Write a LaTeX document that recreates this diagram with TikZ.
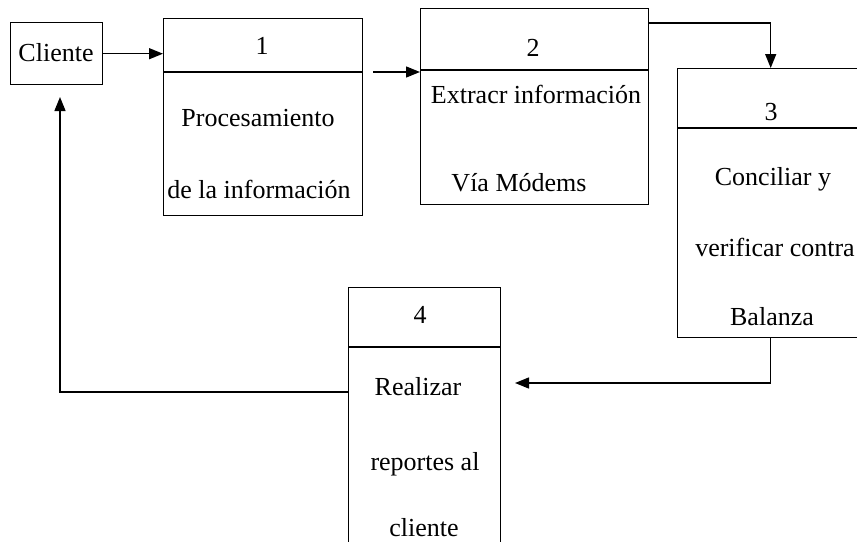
\documentclass[tikz,border=0pt]{standalone}
\usepackage{fontspec}
\setmainfont{Liberation Serif}
\usepackage{tikz}
\usetikzlibrary{arrows.meta,positioning,calc}
\tikzstyle{procbox}=[draw,rectangle,anchor=north west,inner sep=0pt]
\tikzstyle{boxtext}=[anchor=base,inner sep=0pt,font=\fontsize{26}{30}\selectfont]
\tikzstyle{flow}=[-{Triangle[length=14pt,width=11pt]}]

\begin{document}
\begin{tikzpicture}[x=1pt,y=-1pt,line width=1.4pt]
    \useasboundingbox (0,0) rectangle (857,541);
    % entidad externa
    \node [procbox,minimum width=92pt,minimum height=62pt] (cliente) at (10,22) {};
    \node [boxtext] (tcliente) at (56,61) {Cliente};
    % procesos
    \node [procbox,minimum width=199pt,minimum height=197pt] (p1) at (163,18) {};
    \draw ([yshift=-54pt]p1.north west) -- ([yshift=-54pt]p1.north east);
    \node [boxtext] (n1) at (262,54) {1};
    \node [boxtext] (t1a) at (258,126) {Procesamiento};
    \node [boxtext] (t1b) at (259,198) {de la información};

    \node [procbox,minimum width=228pt,minimum height=196pt] (p2) at (420,8) {};
    \draw ([yshift=-62pt]p2.north west) -- ([yshift=-62pt]p2.north east);
    \node [boxtext] (n2) at (533,56) {2};
    \node [boxtext] (t2a) at (536,103) {Extracr información};
    \node [boxtext] (t2b) at (519,191) {Vía Módems};

    \node [procbox,minimum width=186pt,minimum height=269pt] (p3) at (677,68) {};
    \draw ([yshift=-60pt]p3.north west) -- ([yshift=-60pt]p3.north east);
    \node [boxtext] (n3) at (771,120) {3};
    \node [boxtext] (t3a) at (773,185) {Conciliar y};
    \node [boxtext] (t3b) at (775,256) {verificar contra};
    \node [boxtext] (t3c) at (772,325) {Balanza};

    \node [procbox,minimum width=152pt,minimum height=280pt] (p4) at (348,287) {};
    \draw ([yshift=-60pt]p4.north west) -- ([yshift=-60pt]p4.north east);
    \node [boxtext] (n4) at (420,323) {4};
    \node [boxtext] (t4a) at (418,395) {Realizar};
    \node [boxtext] (t4b) at (425,470) {reportes al};
    \node [boxtext] (t4c) at (424,536) {cliente};

    % flujos
    \coordinate (s12) at (373,72);
    \coordinate (e34) at (515,383);
    \coordinate (e41) at (60,97);
    \draw [flow] (cliente.east) -- (cliente.east -| p1.west);
    \draw [flow] (s12) -- (s12 -| p2.west);
    \draw [flow] ([yshift=-15pt]p2.north east) -| (p3.north);
    \draw [flow] (p3.south) |- (e34);
    \draw [flow] ([yshift=-105pt]p4.north west) -| (e41);
\end{tikzpicture}
\end{document}
